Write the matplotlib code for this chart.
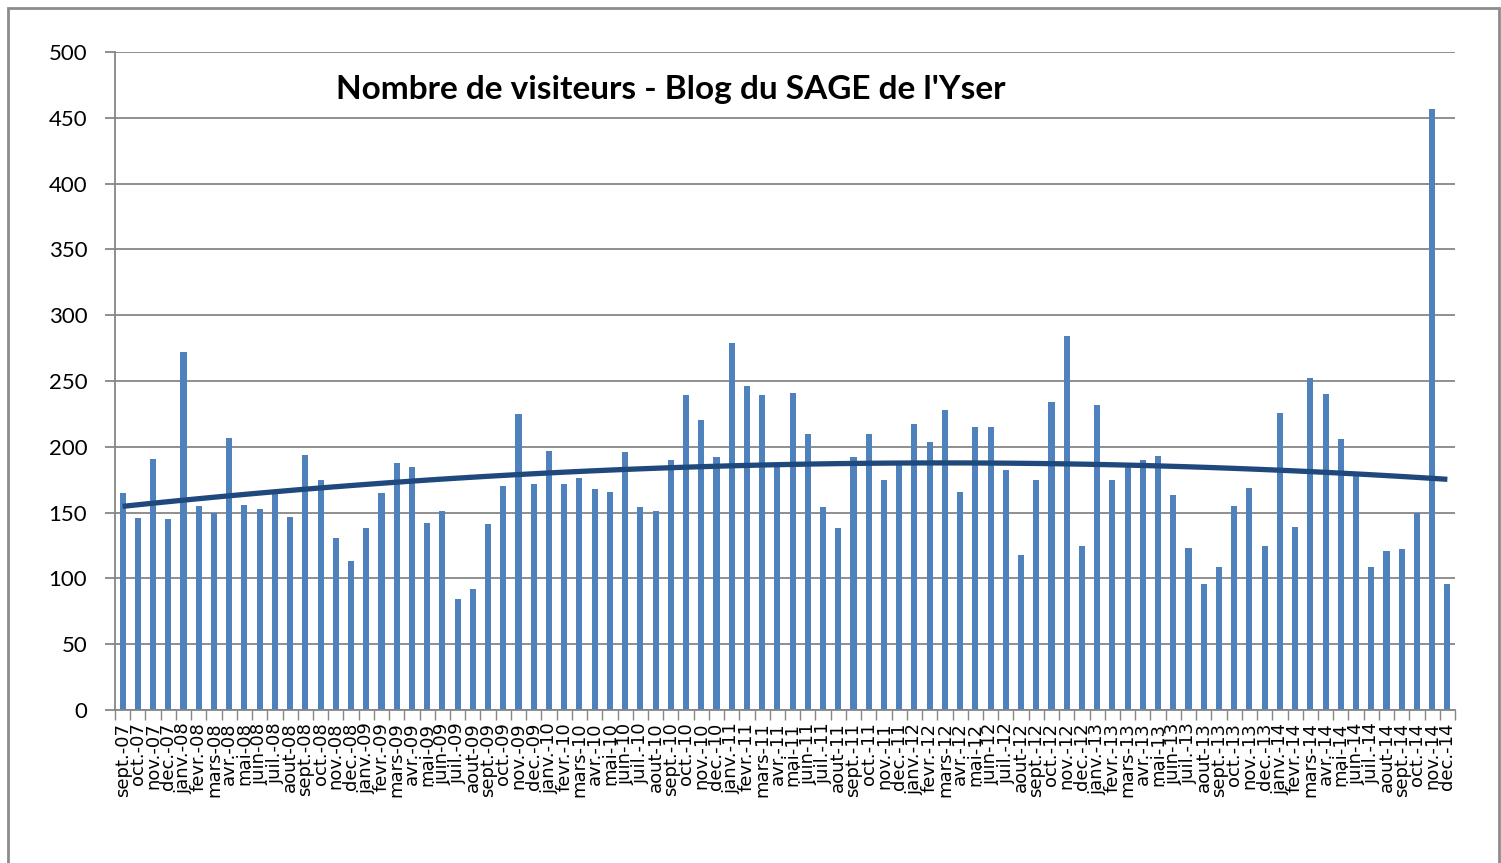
import numpy as np
import matplotlib.pyplot as plt
from matplotlib.patches import Rectangle

# monthly visitors, sept. 2007 -> dec. 2014
month_names = ["janv.", "fevr.", "mars", "avr.", "mai", "juin",
               "juil.", "aout", "sept.", "oct.", "nov.", "dec."]
labels = ["sept.-07", "oct.-07", "nov.-07", "dec.-07"]
for yy in range(8, 15):
    labels += [f"{m}-{yy:02d}" for m in month_names]

visitors = [
    165, 146, 191, 145,                                          # 2007
    272, 155, 150, 207, 156, 153, 165, 147, 194, 175, 131, 113,  # 2008
    138, 165, 188, 185, 142, 151, 84, 92, 141, 170, 225, 172,    # 2009
    197, 172, 176, 168, 166, 196, 154, 151, 190, 239, 220, 192,  # 2010
    279, 246, 239, 185, 241, 210, 154, 138, 192, 210, 175, 186,  # 2011
    217, 204, 228, 166, 215, 215, 182, 118, 175, 234, 284, 125,  # 2012
    232, 175, 185, 190, 193, 163, 123, 96, 109, 155, 169, 125,   # 2013
    226, 139, 252, 240, 206, 179, 109, 121, 122, 150, 457, 96,   # 2014
]

BAR = "#4F81BD"
TREND = "#1F497D"
GRID = "#868686"

plt.rcParams["font.family"] = ["Lato", "DejaVu Sans"]

fig = plt.figure(figsize=(15.01, 8.63), dpi=100)
ax = fig.add_axes([115 / 1501, 1 - 710 / 863, 1340 / 1501, 658 / 863])

x = np.arange(len(visitors))
ax.bar(x, visitors, width=0.4, color=BAR, zorder=2)

# polynomial (order 2) trend line, as in the spreadsheet
coef = np.polyfit(x, visitors, 2)
ax.plot(x, np.polyval(coef, x), color=TREND, linewidth=3.8, zorder=3,
        solid_capstyle="butt")

ax.set_xlim(-0.5, len(visitors) - 0.5)
ax.set_ylim(0, 500)
ax.set_yticks(np.arange(0, 501, 50))
ax.yaxis.grid(True, color=GRID, linewidth=1.3)
ax.set_axisbelow(True)

ax.set_xticks(x)
ax.set_xticklabels(labels, rotation=90, fontsize=13, va="top",
                   family="DejaVu Sans")
ax.set_xticks(np.arange(-0.5, len(visitors)), minor=True)
ax.tick_params(axis="x", which="major", length=0, pad=9)
ax.tick_params(axis="x", which="minor", length=7, width=1, color=GRID)
ax.tick_params(axis="y", length=7, width=1.3, color=GRID, labelsize=16, pad=13)

for side in ["top", "right"]:
    ax.spines[side].set_visible(False)
ax.spines["left"].set_color(GRID)
ax.spines["bottom"].set_color(GRID)
ax.spines["left"].set_linewidth(1.3)
ax.spines["bottom"].set_linewidth(1.3)

fig.text(671 / 1501, 1 - 90 / 863, "Nombre de visiteurs - Blog du SAGE de l'Yser",
         ha="center", va="center", fontsize=24, fontweight="bold")

# chart area border
fig.patches.append(Rectangle((8 / 1501, -0.02), 1491 / 1501, 1.02 - 8 / 863,
                             transform=fig.transFigure, fill=False,
                             edgecolor="#8C8C8C", linewidth=2))

fig.savefig("out.png", dpi=100, facecolor="white")
